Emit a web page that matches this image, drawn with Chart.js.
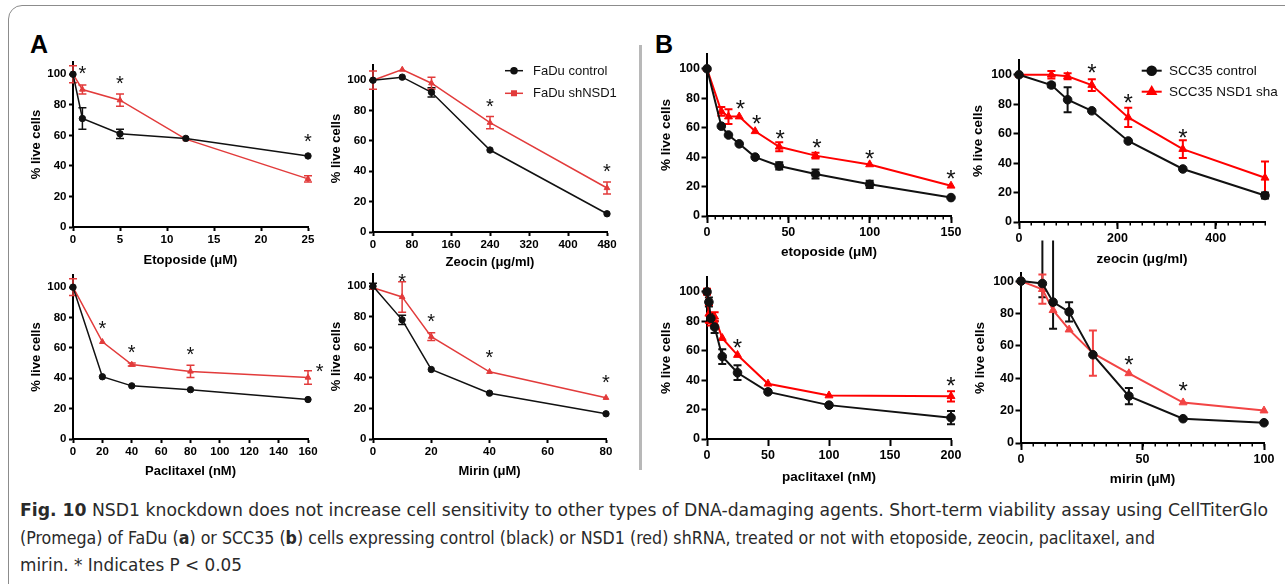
<!DOCTYPE html>
<html>
<head>
<meta charset="utf-8">
<script src="https://cdn.jsdelivr.net/npm/chart.js@4.4.1/dist/chart.umd.min.js"></script>
<style>
  body { margin: 0; background: #fff; width: 1285px; height: 584px; overflow: hidden; position: relative; font-family: 'Liberation Sans', Arial, sans-serif; }
  #frame { position: absolute; left: 8px; top: 5px; width: 1300px; height: 620px; border: 1.5px solid #8c8c8c; border-radius: 14px; }
  .plabel { position: absolute; top: 32px; font-weight: bold; font-size: 25px; line-height: 25px; color: #000; }
  #divider { position: absolute; left: 639px; top: 45px; width: 3px; height: 425px; background: #b8b8b8; }
  .capline { position: absolute; left: 20px; font-family: 'Liberation Sans Narrow', 'DejaVu Sans Condensed', sans-serif; font-size: 18px; line-height: 27.5px; color: #2a2a2a; white-space: nowrap; transform-origin: 0 0; }
  canvas { position: absolute; }
</style>
</head>
<body>
<div id="frame"></div>
<div class="plabel" style="left:30px">A</div>
<div class="plabel" style="left:655px">B</div>
<div id="divider"></div>
<div class="capline" style="top:496px"><b>Fig. 10</b> NSD1 knockdown does not increase cell sensitivity to other types of DNA-damaging agents. Short-term viability assay using CellTiterGlo</div>
<div class="capline" style="top:523.5px">(Promega) of FaDu (<b>a</b>) or SCC35 (<b>b</b>) cells expressing control (black) or NSD1 (red) shRNA, treated or not with etoposide, zeocin, paclitaxel, and</div>
<div class="capline" style="top:551px">mirin. * Indicates P &lt; 0.05</div>

<script>
// y-as ticks, gelijk voor alle panelen
const yTicks = [0, 20, 40, 60, 80, 100];

// ---- A: FaDu ----
const etoX_A = [0, 1, 5, 12, 25];
const etoCtrl_A = [100, 71, 61, 58, 46.5];
const etoCtrlErr_A = [0, 7, 3, 0, 0];
const etoSh_A = [100, 90, 83, 57.5, 31.5];
const etoShErr_A = [5.5, 3, 4, 0, 2];
const etoTicks_A = [0, 5, 10, 15, 20, 25];
const etoStarX_A = [1, 5, 25];
const etoStarY_A = [104, 97.5, 59];

const zeoX_A = [0, 60, 120, 240, 480];
const zeoCtrl_A = [100, 102, 92, 54, 12];
const zeoCtrlErr_A = [0, 0, 3, 0, 0];
const zeoSh_A = [100, 107, 98, 72, 29];
const zeoShErr_A = [6, 0, 4, 4, 4];
const zeoTicks_A = [0, 80, 160, 240, 320, 400, 480];
const zeoStarX_A = [240, 480];
const zeoStarY_A = [86, 43];

const pacX_A = [0, 20, 40, 80, 160];
const pacCtrl_A = [100, 41, 35, 32.5, 26];
const pacCtrlErr_A = [0, 0, 0, 0, 0];
const pacSh_A = [100, 64, 49, 44.5, 40.5];
const pacShErr_A = [5.5, 0, 1, 4, 4.5];
const pacTicks_A = [0, 20, 40, 60, 80, 100, 120, 140, 160];
const pacStarX_A = [20, 40, 80, 168];
const pacStarY_A = [76, 60, 59, 48];

const mirX_A = [0, 10, 20, 40, 80];
const mirCtrl_A = [100, 78, 45.5, 30, 16.5];
const mirCtrlErr_A = [2, 3, 0, 0, 0];
const mirSh_A = [99, 93, 67, 44, 27];
const mirShErr_A = [0, 10, 2.5, 0, 0];
const mirTicks_A = [0, 20, 40, 60, 80];
const mirStarX_A = [10, 20, 40, 80];
const mirStarY_A = [106.5, 80, 56.5, 40];

// ---- B: SCC35 ----
const etoX_B = [0, 8.8, 13.2, 19.8, 29.6, 44.4, 66.7, 100, 150];
const etoCtrl_B = [100, 61, 55, 49, 40, 34, 28.5, 21.5, 12.5];
const etoCtrlErr_B = [0, 0, 0, 0, 0, 2.5, 3, 2.5, 0];
const etoSh_B = [100, 71, 67.5, 67.5, 57.5, 47, 41, 35, 20.5];
const etoShErr_B = [0, 3, 5, 0, 0, 3, 2, 0, 0];
const etoTicks_B = [0, 50, 100, 150];
const etoStarX_B = [20.5, 30.5, 45, 67.5, 100, 150];
const etoStarY_B = [76.5, 66.5, 56, 50, 42.5, 29];

const zeoX_B = [0, 65.8, 98.8, 148, 222, 333, 500];
const zeoCtrl_B = [100, 93, 83, 75.5, 55, 36, 18];
const zeoCtrlErr_B = [0, 1.5, 8.5, 0, 0, 0, 2];
const zeoSh_B = [100, 100, 99, 93, 71, 49.5, 30];
const zeoShErr_B = [1, 2.5, 2, 4, 6.5, 6, 11];
const zeoTicks_B = [0, 200, 400];
const zeoStarX_B = [148, 222, 333];
const zeoStarY_B = [105, 84.5, 61];

const pacX_B = [0, 1.56, 3.13, 6.25, 12.5, 25, 50, 100, 200];
const pacCtrl_B = [100, 93, 82, 76, 56, 45, 32, 23, 14.5];
const pacCtrlErr_B = [0, 3, 3, 4, 5, 5, 0, 0, 4.5];
const pacSh_B = [100, 85, 80, 83, 68.5, 57, 37.5, 29.5, 29];
const pacShErr_B = [2, 6, 3, 3, 0, 0, 0, 0, 3.5];
const pacTicks_B = [0, 50, 100, 150, 200];
const pacStarX_B = [25, 200];
const pacStarY_B = [66, 40];

const mirX_B = [0, 8.8, 13.2, 19.8, 29.6, 44.4, 66.7, 100];
const mirCtrl_B = [100, 98.5, 87, 81, 54.5, 29, 15, 12.5];
const mirCtrlErr_B = [0, 8.5, 16.5, 6, 0, 5, 0, 0];
const mirCtrlErrHi_B = [0, 26.5, 38, 6, 0, 5, 0, 0]; // loopt boven het paneel uit
const mirSh_B = [100, 95, 82, 70, 55.5, 43, 25, 20];
const mirShErr_B = [0, 9, 0, 0, 14, 0, 0, 0];
const mirTicks_B = [0, 50, 100];
const mirStarX_B = [44.4, 66.7];
const mirStarY_B = [52, 35.5];

// breedte van de caption-regels in het origineel
const captionWidths = [1248, 1135, 222];

const FONT = "'Liberation Sans', Arial, sans-serif";

const styleA = { tick: 11.5, title: 13, red: '#e23b3b', lw: 1.5, rBlack: 3.2, rRed: 3.3, cap: 4, star: 20, tickLen: 4, yPad: 2.5, yGap: 36.5 };
const styleB = { tick: 12.5, title: 13.5, red: '#ff0000', lw: 2, rBlack: 4.3, rRed: 4.6, cap: 4, star: 24, tickLen: 5.5, yPad: 1.5, yGap: 41 };

function pts(xs, ys) {
    return xs.map((x, i) => ({ x: x, y: ys[i] }));
}

// foutbalken via de schalen van de chart
function errorBars(st) {
    return {
        id: 'errbars',
        beforeDatasetsDraw(chart) {
            const ctx = chart.ctx, sx = chart.scales.x, sy = chart.scales.y;
            chart.data.datasets.forEach(ds => {
                if (!ds.err) return;
                ctx.save();
                ctx.strokeStyle = ds.borderColor;
                ctx.lineWidth = st.lw;
                ds.data.forEach((p, i) => {
                    const dn = ds.err[i];
                    const up = ds.errHi ? ds.errHi[i] : ds.err[i];
                    if (!dn && !up) return;
                    const px = sx.getPixelForValue(p.x);
                    const y1 = sy.getPixelForValue(p.y + up);
                    const y2 = sy.getPixelForValue(p.y - dn);
                    ctx.beginPath();
                    ctx.moveTo(px, y1); ctx.lineTo(px, y2);
                    if (up === dn) { ctx.moveTo(px - st.cap, y1); ctx.lineTo(px + st.cap, y1); }
                    ctx.moveTo(px - st.cap, y2); ctx.lineTo(px + st.cap, y2);
                    ctx.stroke();
                });
                ctx.restore();
            });
        }
    };
}

function stars(xs, ys, size) {
    return {
        id: 'stars',
        afterDatasetsDraw(chart) {
            const ctx = chart.ctx, sx = chart.scales.x, sy = chart.scales.y;
            ctx.save();
            ctx.fillStyle = '#111';
            ctx.font = size + 'px ' + FONT;
            ctx.textAlign = 'center';
            ctx.textBaseline = 'alphabetic';
            xs.forEach((x, i) => {
                ctx.fillText('*', sx.getPixelForValue(x), sy.getPixelForValue(ys[i]) + size * 0.58);
            });
            ctx.restore();
        }
    };
}

function minorTicks(step, len) {
    return {
        id: 'minor',
        afterDraw(chart) {
            const ctx = chart.ctx, sx = chart.scales.x;
            const yb = chart.chartArea.bottom;
            ctx.save();
            ctx.strokeStyle = '#000';
            ctx.lineWidth = 1.5;
            ctx.beginPath();
            for (let v = sx.min; v <= sx.max + 0.001; v += step) {
                const px = Math.round(sx.getPixelForValue(v)) + 0.25;
                ctx.moveTo(px, yb); ctx.lineTo(px, yb + len);
            }
            ctx.stroke();
            ctx.restore();
        }
    };
}

// legenda, posities in pagina-coordinaten
function legendBox(lg, offX, offY, st) {
    return {
        id: 'legendbox',
        afterDraw(chart) {
            const ctx = chart.ctx;
            chart.data.datasets.forEach((ds, i) => {
                const y = lg.y + i * lg.gap - offY;
                const x = lg.x - offX;
                ctx.save();
                ctx.strokeStyle = ds.borderColor;
                ctx.lineWidth = st.lw;
                ctx.beginPath(); ctx.moveTo(x, y); ctx.lineTo(x + lg.len, y); ctx.stroke();
                Chart.helpers.drawPoint(ctx, {
                    pointStyle: lg.styles[i], radius: lg.r[i], borderWidth: 1, rotation: 0
                }, x + lg.len / 2, y);
                ctx.fillStyle = ds.borderColor;
                ctx.fill();
                ctx.fillStyle = '#111';
                ctx.font = lg.size + 'px ' + FONT;
                ctx.textBaseline = 'middle';
                ctx.fillText(lg.names[i], lg.textX - offX, y + 0.5);
                ctx.restore();
            });
        }
    };
}

function makePanel(p) {
    const st = p.style === 'A' ? styleA : styleB;
    const red = p.red || st.red;
    const padTop = p.padTop || 20, padRight = 25, yW = 60, xH = 50;
    const plotH = Math.round(p.yMax * p.ppu);
    const top = p.axisY - plotH;
    const left = p.axisX - yW, ctop = top - padTop;

    const cv = document.createElement('canvas');
    cv.width = p.xEnd - p.axisX + yW + padRight;
    cv.height = plotH + padTop + xH;
    cv.style.left = left + 'px';
    cv.style.top = ctop + 'px';
    document.body.appendChild(cv);

    const titleLh = st.title * 1.2;
    const plugins = [errorBars(st), stars(p.starX, p.starY, st.star)];
    if (p.minor) plugins.push(minorTicks(p.minor, 3.5));
    if (p.legend) plugins.push(legendBox(p.legend, left, ctop, st));

    new Chart(cv, {
        type: 'scatter',
        data: {
            datasets: [
                {
                    data: pts(p.xs, p.ctrl), err: p.ctrlErr, errHi: p.ctrlErrHi,
                    showLine: true, borderColor: '#111', backgroundColor: '#111',
                    borderWidth: st.lw, pointStyle: 'circle', pointRadius: st.rBlack,
                    pointBorderWidth: 1, pointBackgroundColor: '#111', clip: false
                },
                {
                    data: pts(p.xs, p.sh), err: p.shErr,
                    showLine: true, borderColor: red, backgroundColor: red,
                    borderWidth: st.lw, pointStyle: 'triangle', pointRadius: st.rRed,
                    pointBorderWidth: 1, pointBackgroundColor: red, clip: false
                }
            ]
        },
        options: {
            responsive: false,
            animation: false,
            layout: { padding: { top: padTop, right: padRight, left: 0, bottom: 0 } },
            plugins: { legend: { display: false }, tooltip: { enabled: false } },
            scales: {
                x: {
                    type: 'linear', min: 0, max: p.xMax,
                    afterBuildTicks: s => { s.ticks = p.ticks.map(v => ({ value: v })); },
                    afterFit: s => { s.height = xH; },
                    ticks: { autoSkip: false, maxRotation: 0, padding: 2, color: '#000', font: { family: FONT, size: st.tick, weight: 'bold' } },
                    grid: { drawOnChartArea: false, tickLength: p.style === 'A' ? st.tickLen : 7, tickWidth: 2, tickColor: '#000' },
                    border: { display: true, color: '#000', width: 2 },
                    title: { display: true, text: p.xTitle, color: '#000', padding: xH - p.xGap - titleLh / 2, font: { family: FONT, size: st.title, weight: 'bold' } }
                },
                y: {
                    type: 'linear', min: 0, max: p.yMax,
                    afterBuildTicks: s => { s.ticks = yTicks.map(v => ({ value: v })); },
                    afterFit: s => { s.width = yW; },
                    ticks: { padding: st.yPad, color: '#000', font: { family: FONT, size: st.tick, weight: 'bold' } },
                    grid: { drawOnChartArea: false, tickLength: st.tickLen, tickWidth: 2, tickColor: '#000' },
                    border: { display: true, color: '#000', width: 2 },
                    title: { display: true, text: '% live cells', color: '#000', padding: yW - st.yGap - titleLh / 2, font: { family: FONT, size: st.title, weight: 'bold' } }
                }
            }
        },
        plugins: plugins
    });
}

const panels = [
    { style: 'A', axisX: 73, axisY: 227, xEnd: 308, ppu: 1.524, yMax: 108, xMax: 25, xGap: 33,
      xs: etoX_A, ctrl: etoCtrl_A, ctrlErr: etoCtrlErr_A, sh: etoSh_A, shErr: etoShErr_A,
      ticks: etoTicks_A, starX: etoStarX_A, starY: etoStarY_A, xTitle: 'Etoposide (\u03bcM)' },
    { style: 'A', axisX: 373, axisY: 232, xEnd: 607, ppu: 1.516, yMax: 110, xMax: 480, xGap: 30,
      xs: zeoX_A, ctrl: zeoCtrl_A, ctrlErr: zeoCtrlErr_A, sh: zeoSh_A, shErr: zeoShErr_A,
      ticks: zeoTicks_A, starX: zeoStarX_A, starY: zeoStarY_A, xTitle: 'Zeocin (\u03bcg/ml)',
      legend: { x: 505, y: 70.7, gap: 22.6, len: 18, textX: 533, size: 13,
                names: ['FaDu control', 'FaDu shNSD1'], styles: ['circle', 'rect'], r: [3, 3.2] } },
    { style: 'A', axisX: 73, axisY: 439, xEnd: 308, ppu: 1.52, yMax: 108, xMax: 160, xGap: 32.5,
      xs: pacX_A, ctrl: pacCtrl_A, ctrlErr: pacCtrlErr_A, sh: pacSh_A, shErr: pacShErr_A,
      ticks: pacTicks_A, starX: pacStarX_A, starY: pacStarY_A, xTitle: 'Paclitaxel (nM)' },
    { style: 'A', axisX: 373, axisY: 439, xEnd: 606, ppu: 1.526, yMax: 108, xMax: 80, xGap: 32.5,
      xs: mirX_A, ctrl: mirCtrl_A, ctrlErr: mirCtrlErr_A, sh: mirSh_A, shErr: mirShErr_A,
      ticks: mirTicks_A, starX: mirStarX_A, starY: mirStarY_A, xTitle: 'Mirin (\u03bcM)' },

    { style: 'B', axisX: 707, axisY: 216, xEnd: 951, ppu: 1.474, yMax: 110, xMax: 150, xGap: 36, minor: 5,
      xs: etoX_B, ctrl: etoCtrl_B, ctrlErr: etoCtrlErr_B, sh: etoSh_B, shErr: etoShErr_B,
      ticks: etoTicks_B, starX: etoStarX_B, starY: etoStarY_B, xTitle: 'etoposide (\u03bcM)' },
    { style: 'B', axisX: 1019, axisY: 222, xEnd: 1265, ppu: 1.477, yMax: 110, xMax: 500, xGap: 37.5, minor: 25,
      xs: zeoX_B, ctrl: zeoCtrl_B, ctrlErr: zeoCtrlErr_B, sh: zeoSh_B, shErr: zeoShErr_B,
      ticks: zeoTicks_B, starX: zeoStarX_B, starY: zeoStarY_B, xTitle: 'zeocin (\u03bcg/ml)',
      legend: { x: 1141.7, y: 70.7, gap: 21, len: 20, textX: 1169, size: 13.5,
                names: ['SCC35 control', 'SCC35 NSD1 sha'], styles: ['circle', 'triangle'], r: [4.3, 4.6] } },
    { style: 'B', axisX: 707, axisY: 439, xEnd: 951, ppu: 1.476, yMax: 110, xMax: 200, xGap: 38,
      xs: pacX_B, ctrl: pacCtrl_B, ctrlErr: pacCtrlErr_B, sh: pacSh_B, shErr: pacShErr_B,
      ticks: pacTicks_B, starX: pacStarX_B, starY: pacStarY_B, xTitle: 'paclitaxel (nM)' },
    { style: 'B', axisX: 1021, axisY: 443, xEnd: 1264, ppu: 1.62, yMax: 105, xMax: 100, xGap: 36.5, minor: 5,
      padTop: 36, red: '#f24444',
      xs: mirX_B, ctrl: mirCtrl_B, ctrlErr: mirCtrlErr_B, ctrlErrHi: mirCtrlErrHi_B, sh: mirSh_B, shErr: mirShErr_B,
      ticks: mirTicks_B, starX: mirStarX_B, starY: mirStarY_B, xTitle: 'mirin (\u03bcM)' }
];

panels.forEach(makePanel);

// elke caption-regel op de breedte van het origineel
document.querySelectorAll('.capline').forEach((el, i) => {
    const w = el.getBoundingClientRect().width;
    el.style.transform = 'scaleX(' + (captionWidths[i] / w) + ')';
});
</script>
</body>
</html>
